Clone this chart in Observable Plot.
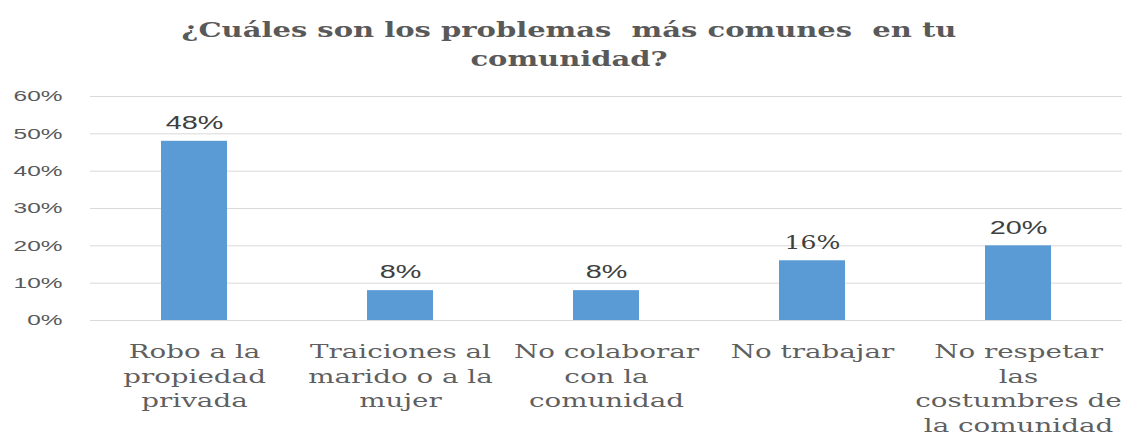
<!DOCTYPE html>
<html><head><meta charset="utf-8">
<script src="https://cdn.jsdelivr.net/npm/d3@7"></script>
<script src="https://cdn.jsdelivr.net/npm/@observablehq/plot@0.6"></script>
<style>
html,body{margin:0;padding:0;background:#fff;}
#title{height:80px;box-sizing:border-box;padding-top:16px;padding-left:12px;font-family:"DejaVu Serif",serif;font-weight:bold;font-size:20px;line-height:28.5px;color:#595959;text-align:center;white-space:pre;}
#title div{transform:scaleX(1.45);transform-origin:center;}
#chart svg{display:block;}
</style></head><body>
<div id="title"></div>
<div id="chart"></div>
<script>
const titleLines = ["¿Cuáles son los problemas  más comunes  en tu", "comunidad?"];
const categories = [
  "Robo a la\npropiedad\nprivada",
  "Traiciones al\nmarido o a la\nmujer",
  "No colaborar\ncon la\ncomunidad",
  "No trabajar",
  "No respetar\nlas\ncostumbres de\nla comunidad"
];
const values = [0.48, 0.08, 0.08, 0.16, 0.20];
const valueLabels = ["48%", "8%", "8%", "16%", "20%"];
const yTicks = [0, 0.1, 0.2, 0.3, 0.4, 0.5, 0.6];

const serif = "'DejaVu Serif', serif";

const title = document.getElementById("title");
for (const line of titleLines) {
  const d = document.createElement("div");
  d.textContent = line;
  title.appendChild(d);
}

const data = categories.map((c, i) => ({category: c, value: values[i], label: valueLabels[i]}));

const chart = Plot.plot({
  width: 1126,
  height: 357,
  marginTop: 16,
  marginBottom: 117,
  marginLeft: 90,
  marginRight: 4,
  style: {background: "#fff", fontFamily: "'Liberation Sans', Arial, sans-serif"},
  x: {domain: categories, paddingInner: 0.68, paddingOuter: 0.34, label: null},
  y: {domain: [0, 0.6], label: null},
  marks: [
    Plot.gridY(yTicks, {stroke: "#d9d9d9", strokeOpacity: 1, strokeWidth: 1}),
    Plot.barY(data, {x: "category", y: "value", fill: "#5B9BD5"}),
    Plot.text(data, {filter: d => d.category !== "No trabajar", x: "category", y: "value", text: "label",
      lineAnchor: "middle", dy: -18, fontSize: 18, fill: "#404040", className: "stretch-val"}),
    Plot.text(data, {filter: d => d.category === "No trabajar", x: "category", y: "value", text: "label",
      lineAnchor: "middle", dy: -18, fontSize: 18, fill: "#404040", fontFamily: serif, className: "stretch-val16"}),
    Plot.axisY(yTicks, {tickSize: 0, tickPadding: 28, tickFormat: d3.format(".0%"), fontSize: 15, fill: "#595959", className: "stretch-y"}),
    Plot.axisX({tickSize: 0, tickPadding: 20, fontSize: 19, lineHeight: 1.3, fontFamily: serif, fill: "#5f5f5f", className: "stretch-x"})
  ]
});
document.getElementById("chart").appendChild(chart);

function stretch(cls, sx) {
  chart.querySelectorAll("." + cls + " text").forEach(t => {
    const tr = t.getAttribute("transform") || "";
    t.setAttribute("transform", tr + ` scale(${sx},1)`);
  });
}
stretch("stretch-val", 1.6);
stretch("stretch-val16", 1.4);
stretch("stretch-y", 1.63);
stretch("stretch-x", 1.46);
</script>
</body></html>
